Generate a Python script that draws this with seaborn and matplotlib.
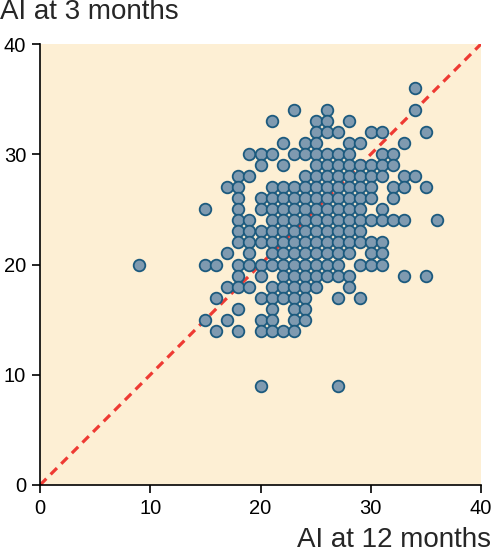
import matplotlib
matplotlib.use("Agg")
import matplotlib.pyplot as plt
import seaborn as sns
import pandas as pd

# AI at 12 months (x) and AI at 3 months (y), one entry per patient
ai_12_months = [
    34,
    23, 26, 34,
    21, 25, 26, 28,
    25, 26, 27, 30, 31, 35,
    22, 24, 25, 28, 29, 33,
    19, 20, 21, 23, 24, 25, 26, 27, 28, 31, 32,
    20, 22, 25, 26, 27, 28, 29, 30, 31, 32,
    18, 19, 24, 25, 26, 27, 28, 29, 30, 31, 33, 34,
    17, 18, 21, 22, 23, 24, 25, 26, 27, 28, 29, 30, 32, 33, 35,
    18, 20, 21, 22, 23, 24, 25, 26, 27, 28, 29, 30, 32,
    15, 18, 20, 21, 22, 23, 24, 25, 26, 27, 28, 29, 31,
    18, 19, 21, 22, 23, 24, 25, 26, 27, 28, 29, 30, 31, 32, 33, 36,
    18, 19, 20, 21, 22, 23, 24, 25, 26, 27, 28, 29,
    18, 19, 20, 21, 22, 23, 24, 25, 26, 27, 28, 29, 30, 31,
    17, 19, 21, 22, 23, 24, 25, 26, 27, 28, 30, 31,
    9, 15, 16, 18, 19, 20, 21, 22, 23, 24, 25, 26, 27, 29, 30, 31,
    18, 20, 22, 23, 24, 25, 26, 27, 28, 33, 35,
    17, 18, 19, 21, 22, 23, 24, 25, 28,
    16, 20, 21, 22, 23, 24, 27, 29,
    18, 21, 23, 24,
    15, 17, 20, 21, 23, 24,
    16, 18, 20, 21, 22, 23,
    20, 27,
]
ai_3_months = [
    36,
    34, 34, 34,
    33, 33, 33, 33,
    32, 32, 32, 32, 32, 32,
    31, 31, 31, 31, 31, 31,
    30, 30, 30, 30, 30, 30, 30, 30, 30, 30, 30,
    29, 29, 29, 29, 29, 29, 29, 29, 29, 29,
    28, 28, 28, 28, 28, 28, 28, 28, 28, 28, 28, 28,
    27, 27, 27, 27, 27, 27, 27, 27, 27, 27, 27, 27, 27, 27, 27,
    26, 26, 26, 26, 26, 26, 26, 26, 26, 26, 26, 26, 26,
    25, 25, 25, 25, 25, 25, 25, 25, 25, 25, 25, 25, 25,
    24, 24, 24, 24, 24, 24, 24, 24, 24, 24, 24, 24, 24, 24, 24, 24,
    23, 23, 23, 23, 23, 23, 23, 23, 23, 23, 23, 23,
    22, 22, 22, 22, 22, 22, 22, 22, 22, 22, 22, 22, 22, 22,
    21, 21, 21, 21, 21, 21, 21, 21, 21, 21, 21, 21,
    20, 20, 20, 20, 20, 20, 20, 20, 20, 20, 20, 20, 20, 20, 20, 20,
    19, 19, 19, 19, 19, 19, 19, 19, 19, 19, 19,
    18, 18, 18, 18, 18, 18, 18, 18, 18,
    17, 17, 17, 17, 17, 17, 17, 17,
    16, 16, 16, 16,
    15, 15, 15, 15, 15, 15,
    14, 14, 14, 14, 14, 14,
    9, 9,
]
axis_ticks = [0, 10, 20, 30, 40]
x_title = "AI at 12 months"
y_title = "AI at 3 months"

df = pd.DataFrame({"x": ai_12_months, "y": ai_3_months})

sns.set_theme(style="ticks")
plt.rcParams["font.family"] = ["Liberation Sans", "DejaVu Sans"]

fig = plt.figure(figsize=(4.94, 5.52), dpi=100)
ax = fig.add_axes([40 / 494, 67 / 552, 441 / 494, 441 / 552])
ax.set_facecolor("#FDEFD4")

ax.axline((0, 0), slope=1, color="#EE3A33", lw=2.3,
          linestyle=(0, (2.8, 1.9)), zorder=1)
sns.scatterplot(data=df, x="x", y="y", ax=ax, s=70, color="#7F9AB0",
                edgecolor="#1C5A7E", linewidth=1.3, zorder=3, legend=False)

ax.set_xlim(0, 40)
ax.set_ylim(0, 40)
ax.set_xticks(axis_ticks)
ax.set_yticks(axis_ticks)
ax.set_xlabel("")
ax.set_ylabel("")
for s in ["top", "right"]:
    ax.spines[s].set_visible(False)
for s in ["left", "bottom"]:
    ax.spines[s].set_color("black")
    ax.spines[s].set_linewidth(1.2)
ax.tick_params(axis="both", labelsize=14.5, length=6, width=1.2,
               colors="black", direction="out", pad=4)

fig.text(0.0, 1 - 12 / 552, y_title, ha="left", va="center", fontsize=20)
fig.text(491 / 494, 1 - 540 / 552, x_title, ha="right", va="center", fontsize=20)

fig.savefig("out.png", dpi=100, facecolor="white")
